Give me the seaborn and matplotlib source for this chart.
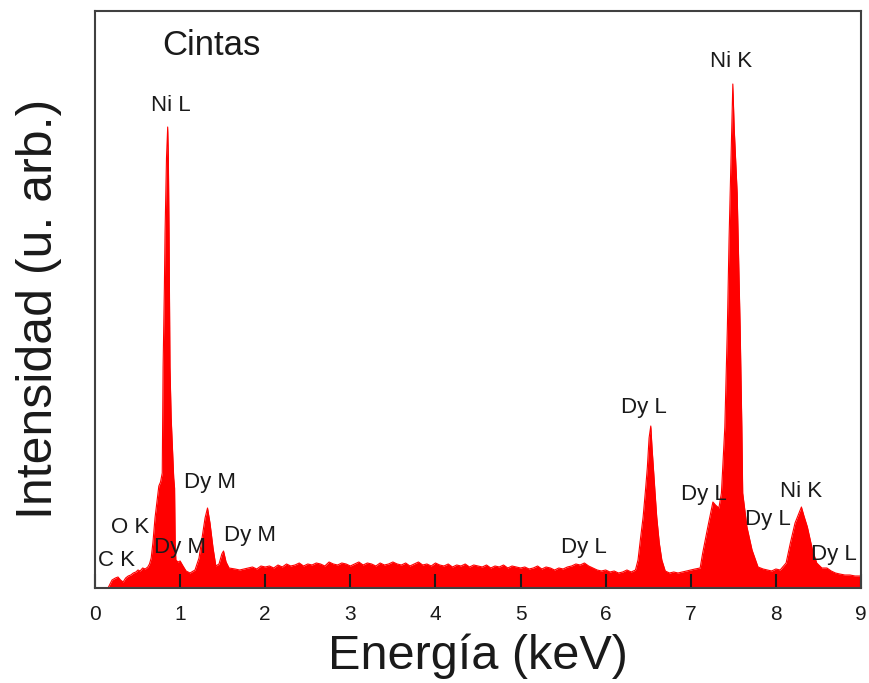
import matplotlib
matplotlib.use("Agg")
import matplotlib.pyplot as plt
import seaborn as sns
import pandas as pd

# ---- data (energy in keV, intensity in arbitrary units) ----
energy_low = [0.153, 0.20, 0.24, 0.27, 0.30, 0.33, 0.36, 0.39, 0.42, 0.45, 0.48, 0.505,
              0.53, 0.56, 0.59, 0.62, 0.64, 0.66, 0.68, 0.705, 0.73, 0.75, 0.77, 0.79,
              0.80, 0.815, 0.823, 0.84, 0.854, 0.862, 0.870, 0.881, 0.895, 0.91, 0.925,
              0.935, 0.942, 0.95, 0.975, 1.0, 1.034, 1.07, 1.116, 1.175, 1.222, 1.257,
              1.293, 1.322, 1.351, 1.387, 1.42, 1.457, 1.49, 1.51, 1.54, 1.575, 1.645,
              1.70, 1.75]
intensity_low = [0, 8, 10, 11, 8, 6, 10, 12, 13, 15, 16, 18,
                 17, 20, 19, 21, 24, 30, 45, 70, 88, 102, 106, 115,
                 221, 300, 355, 430, 461, 430, 355, 221, 170, 140, 110,
                 100, 45, 28, 26, 27, 22, 17, 15, 18, 30, 50,
                 70, 80, 65, 40, 22, 24, 34, 37, 26, 20, 19,
                 18, 19]

energy_mid = [1.80, 1.85, 1.90, 1.95, 2.00, 2.05, 2.10, 2.15, 2.20, 2.25, 2.30, 2.35,
              2.40, 2.45, 2.50, 2.55, 2.60, 2.65, 2.70, 2.75, 2.80, 2.85, 2.90, 2.95,
              3.00, 3.05, 3.10, 3.15, 3.20, 3.25, 3.30, 3.35, 3.40, 3.45, 3.50, 3.55,
              3.60, 3.65, 3.70, 3.75, 3.80, 3.85, 3.90, 3.95, 4.00, 4.05, 4.10, 4.15,
              4.20, 4.25, 4.30, 4.35, 4.40, 4.45, 4.50, 4.55, 4.60, 4.65, 4.70, 4.75,
              4.80, 4.85, 4.90, 4.95, 5.00, 5.05, 5.10, 5.15, 5.20, 5.25, 5.30, 5.35,
              5.40, 5.45, 5.50, 5.55, 5.60, 5.65, 5.70, 5.75, 5.80, 5.85, 5.90, 5.95,
              6.00, 6.05, 6.10, 6.15, 6.20, 6.25]
intensity_mid = [20, 21, 19, 22, 21, 22, 20, 23, 21, 24, 22, 23,
                 25, 22, 24, 23, 25, 24, 22, 26, 24, 23, 25, 24,
                 22, 24, 26, 23, 25, 24, 22, 25, 23, 24, 26, 24,
                 23, 25, 22, 24, 26, 23, 24, 22, 25, 23, 22, 24,
                 21, 23, 22, 24, 21, 23, 22, 21, 23, 20, 22, 21,
                 23, 20, 22, 21, 20, 21, 19, 20, 22, 19, 21, 20,
                 18, 20, 19, 21, 22, 24, 23, 25, 22, 20, 18, 17,
                 18, 16, 17, 15, 16, 18]

energy_high = [6.30, 6.35, 6.38, 6.41, 6.44, 6.47, 6.49, 6.51, 6.53, 6.545, 6.56, 6.58,
               6.60, 6.63, 6.66, 6.70, 6.75, 6.80, 6.85, 6.90, 6.95, 7.00, 7.05, 7.11,
               7.14, 7.20, 7.26, 7.29, 7.33, 7.36, 7.40, 7.43, 7.45, 7.475, 7.494, 7.51,
               7.545, 7.58, 7.60, 7.61, 7.66, 7.72, 7.79, 7.85, 7.90, 7.95, 8.00, 8.05,
               8.12, 8.17, 8.225, 8.30, 8.33, 8.37, 8.43, 8.48, 8.54, 8.60, 8.65, 8.70,
               8.75, 8.81, 8.87, 8.93, 9.0]
intensity_high = [16, 18, 28, 50, 71, 100, 121, 150, 162, 140, 121, 95,
                  71, 45, 28, 17, 15, 16, 15, 16, 17, 18, 19, 20,
                  35, 61, 86, 83, 80, 95, 161, 261, 350, 440, 504, 460,
                  395, 261, 161, 95, 61, 38, 21, 19, 18, 17, 19, 18,
                  25, 45, 65, 81, 72, 61, 38, 25, 20, 20, 17, 15,
                  14, 13, 13, 12, 12]

peak_labels = ["C K", "O K", "Dy M", "Ni L", "Dy M", "Dy M",
               "Dy L", "Dy L", "Dy L", "Ni K", "Dy L", "Ni K", "Dy L"]
sample_name = "Cintas"
xtick_values = [0, 1, 2, 3, 4, 5, 6, 7, 8, 9]

# ---- layout (label anchor positions, in data coordinates) ----
label_pos = [(0.25, 22), (0.41, 55), (0.995, 35), (0.893, 477), (1.35, 100), (1.82, 47),
             (5.74, 35), (6.45, 175), (7.15, 88), (7.47, 521), (7.91, 63), (8.29, 91),
             (8.68, 28)]

df = pd.DataFrame({
    "energy": energy_low + energy_mid + energy_high,
    "intensity": intensity_low + intensity_mid + intensity_high,
})

sns.set_theme(style="white")
plt.rcParams["font.family"] = ["Liberation Sans", "DejaVu Sans"]

fig = plt.figure(figsize=(8.69, 6.83), dpi=100)
ax = fig.add_axes([95 / 869, 1 - 588 / 683, (861 - 95) / 869, (588 - 11) / 683])
ax.set_axisbelow(False)

ax.fill_between(df["energy"], 0, df["intensity"], color="#ff0000", linewidth=0, zorder=1)
sns.lineplot(data=df, x="energy", y="intensity", ax=ax, color="#ff0000",
             linewidth=0.8, zorder=1, estimator=None, sort=False)

for txt, (xp, yp) in zip(peak_labels, label_pos):
    ax.text(xp, yp, txt, ha="center", va="baseline", fontsize=16, color="#1a1a1a", zorder=5)
ax.text(0.79, 533, sample_name, ha="left", va="baseline", fontsize=25, color="#1a1a1a", zorder=5)

ax.set_xlim(0, 9)
ax.set_ylim(0, 577)
ax.set_xticks(xtick_values)
ax.set_xticklabels([str(v) for v in xtick_values])
ax.set_yticks([])
ax.tick_params(axis="x", direction="in", length=10, width=1.5, colors="#1a1a1a",
               labelsize=15, pad=12, bottom=True, top=False)
for s in ax.spines.values():
    s.set_visible(True)
    s.set_color("#404040")
    s.set_linewidth(1.5)
    s.set_zorder(4)

ax.set_xlabel("Energía (keV)", fontsize=35, color="#1a1a1a", labelpad=7)
ax.set_ylabel("Intensidad (u. arb.)", fontsize=36, color="#1a1a1a")
ax.yaxis.set_label_coords(-0.0425, 0.484)

fig.savefig("out.png", dpi=100)
